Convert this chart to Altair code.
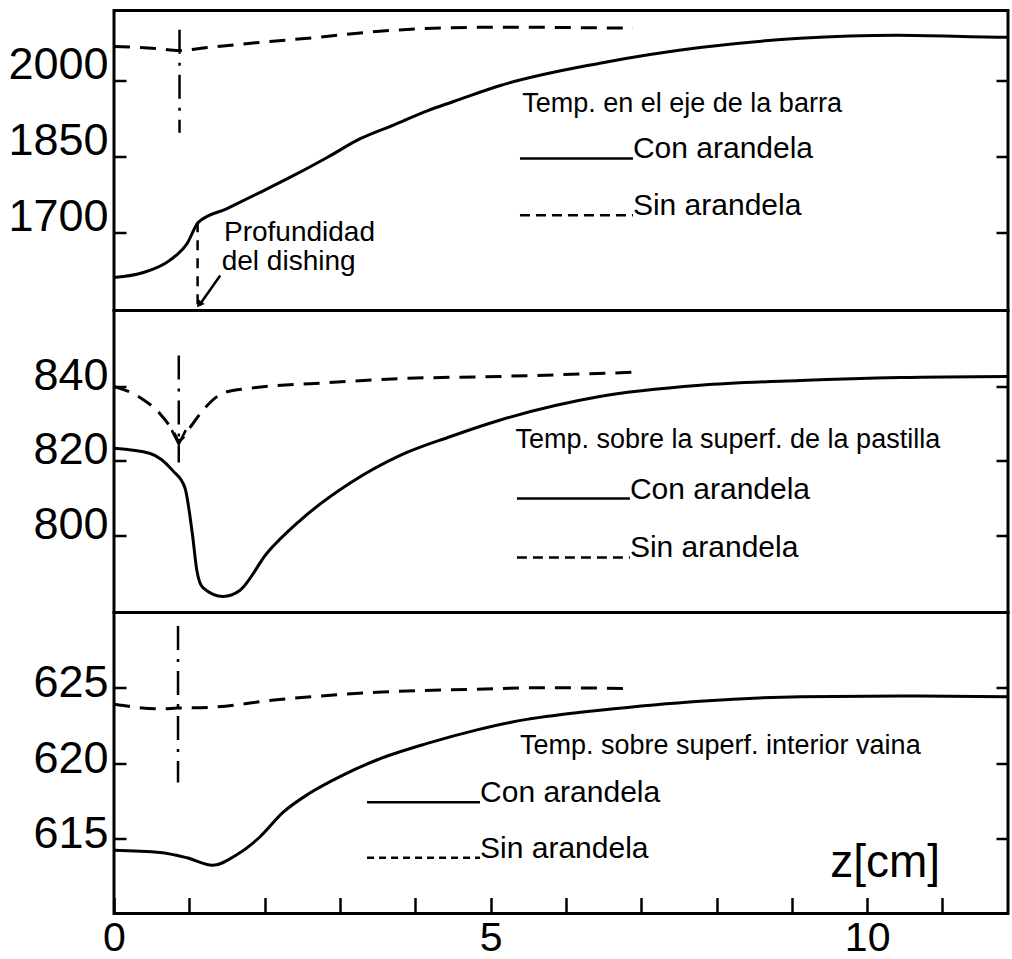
import altair as alt
import pandas as pd

FONT = "Liberation Sans"
X_MAX = 11.87
PLOT_W = 894

# ---------------- Panel 1: Temp. en el eje de la barra ----------------
barra_con_z = [0.0, 0.39, 0.74, 0.97, 1.12, 1.50, 1.94, 2.38, 2.83, 3.27, 3.71, 4.16, 4.50, 4.69, 5.13, 6.45, 7.78, 9.11, 10.4, 11.9, 12.0]
barra_con_T = [1611, 1621, 1645, 1678, 1720, 1747, 1779, 1812, 1848, 1885, 1912, 1940, 1958, 1968, 1990, 2034, 2065, 2083, 2089, 2085, 2085]
barra_sin_z = [0.0, 0.55, 0.87, 1.24, 1.94, 2.70, 3.36, 4.24, 5.13, 6.89]
barra_sin_T = [2067, 2063, 2059, 2065, 2075, 2085, 2095, 2103, 2105, 2103]
barra_ticks = [1700, 1850, 2000]
barra_domain = [1546, 2138]

# ---------------- Panel 2: Temp. sobre la superf. de la pastilla ----------------
pastilla_con_z = [0.0, 0.48, 0.78, 0.94, 1.04, 1.10, 1.18, 1.45, 1.67, 2.03, 2.47, 3.13, 3.80, 4.46, 5.13, 6.45, 7.78, 9.11, 10.44, 12.0]
pastilla_con_T = [823.4, 822.0, 817.4, 812.9, 800.5, 790.6, 786.0, 783.6, 785.2, 795.2, 804.0, 814.0, 821.5, 826.5, 831.0, 837.3, 840.3, 841.6, 842.4, 842.7]
pastilla_sin_z = [0.0, 0.35, 0.61, 0.78, 0.86, 1.01, 1.18, 1.47, 1.81, 2.91, 3.80, 5.13, 6.89]
pastilla_sin_T = [840.0, 837.0, 832.7, 828.2, 825.5, 829.0, 833.6, 838.4, 839.5, 841.1, 842.1, 842.7, 843.8]
pastilla_ticks = [800, 820, 840]
pastilla_domain = [779.3, 860.4]

# ---------------- Panel 3: Temp. sobre superf. interior vaina ----------------
vaina_con_z = [0.0, 0.61, 0.97, 1.31, 1.63, 1.94, 2.24, 2.60, 3.04, 3.49, 4.16, 4.82, 5.48, 5.92, 6.45, 7.78, 9.11, 10.44, 12.0]
vaina_con_T = [614.2, 614.06, 613.7, 613.2, 613.9, 615.1, 616.7, 618.0, 619.2, 620.2, 621.3, 622.2, 622.9, 623.2, 623.5, 624.1, 624.4, 624.45, 624.4]
vaina_sin_z = [0.0, 0.61, 0.84, 1.27, 2.16, 3.49, 4.82, 5.70, 6.89]
vaina_sin_T = [623.9, 623.6, 623.65, 623.7, 624.2, 624.7, 624.9, 625.0, 624.95]
vaina_ticks = [615, 620, 625]
vaina_domain = [610, 630]

x_ticks = list(range(0, 12))

# dash-dot verticals marking the washer position (z, T top, T bottom)
marker_barra = [0.87, 2100, 1897]
marker_pastilla = [0.86, 848.3, 819.6]
marker_vaina = [0.85, 629.1, 618.7]

# annotations (text, z, T, font size)
barra_texts = [
    ("Temp. en el eje de la barra", 5.42, 1937, 27),
    ("Con arandela", 6.89, 1846, 30),
    ("Sin arandela", 6.89, 1734, 30),
    ("Profundidad", 1.46, 1684, 28),
    ("del dishing", 1.43, 1625, 28),
]
barra_samples = [(5.39, 6.89, 1846, "con"), (5.39, 6.89, 1734, "sin")]

pastilla_texts = [
    ("Temp. sobre la superf. de la pastilla", 5.33, 823.6, 27),
    ("Con arandela", 6.85, 809.9, 30),
    ("Sin arandela", 6.85, 794.1, 30),
]
pastilla_samples = [(5.35, 6.85, 809.9, "con"), (5.35, 6.85, 794.1, "sin")]

vaina_texts = [
    ("Temp. sobre superf. interior vaina", 5.39, 620.6, 27),
    ("Con arandela", 4.86, 617.4, 30),
    ("Sin arandela", 4.86, 613.7, 30),
    ("z[cm]", 9.51, 612.4, 46),
]
vaina_samples = [(3.36, 4.86, 617.4, "con"), (3.36, 4.86, 613.7, "sin")]

DASH = [16, 10]
DASHDOT = [24, 9, 3, 9]

X_AXIS = alt.Axis(values=x_ticks, orient="bottom", offset=-16, tickSize=16, tickWidth=2.5,
                  tickColor="black", domain=False, grid=False,
                  labelExpr="datum.value % 5 === 0 ? datum.label : ''",
                  labelFont=FONT, labelFontSize=41, labelColor="black", labelPadding=5,
                  labelFlush=False, labelOverlap=False, labelBound=False, title=None)


def X(axis=None):
    return alt.X("z:Q", scale=alt.Scale(domain=[0, X_MAX], nice=False, zero=False), axis=axis)


def Y(dom, axis=None, field="T"):
    return alt.Y(f"{field}:Q", scale=alt.Scale(domain=dom, nice=False, zero=False), axis=axis)


def panel(con_z, con_T, sin_z, sin_T, dom, ticks, loff, marker, texts, samples, xa=None, sin_leg_dash=(10, 6)):
    left_axis = alt.Axis(values=ticks, orient="left", offset=-12, tickSize=12, tickWidth=2.5,
                         tickColor="black", domain=False, grid=False, labelFont=FONT, format="d",
                         labelFontSize=45, labelColor="black", labelPadding=6, labelOffset=loff,
                         title=None)
    right_axis = alt.Axis(values=ticks, orient="right", offset=-12, tickSize=12, tickWidth=2.5,
                          tickColor="black", domain=False, grid=False, labels=False, title=None)

    con_df = pd.DataFrame({"z": con_z, "T": con_T})
    sin_df = pd.DataFrame({"z": sin_z, "T": sin_T})

    con = alt.Chart(con_df).mark_line(color="black", strokeWidth=3, interpolate="monotone", clip=True).encode(
        x=X(xa), y=Y(dom, left_axis))
    sin = alt.Chart(sin_df).mark_line(color="black", strokeWidth=3, strokeDash=DASH, interpolate="monotone",
                                      clip=True).encode(x=X(xa), y=Y(dom, right_axis))

    mk_df = pd.DataFrame({"z": [marker[0]], "T": [marker[1]], "T2": [marker[2]]})
    mk = alt.Chart(mk_df).mark_rule(color="black", strokeWidth=2.5, strokeDash=DASHDOT).encode(
        x=X(xa), y=Y(dom), y2=alt.Y2("T2:Q"))

    txt_df = pd.DataFrame(texts, columns=["text", "z", "T", "size"])
    txt = alt.Chart(txt_df).mark_text(align="left", baseline="alphabetic", font=FONT, color="black").encode(
        x=X(xa), y=Y(dom), text="text:N", size=alt.Size("size:Q", scale=None, legend=None))

    smp_df = pd.DataFrame(samples, columns=["z", "z2", "T", "kind"])
    smp_con = alt.Chart(smp_df[smp_df.kind == "con"]).mark_rule(color="black", strokeWidth=2.5).encode(
        x=X(xa), x2=alt.X2("z2:Q"), y=Y(dom))
    smp_sin = alt.Chart(smp_df[smp_df.kind == "sin"]).mark_rule(color="black", strokeWidth=2.5,
                                                                strokeDash=list(sin_leg_dash)).encode(
        x=X(xa), x2=alt.X2("z2:Q"), y=Y(dom))

    return [con, sin, mk, txt, smp_con, smp_sin]


# ---- panel 1 ----
l1 = panel(barra_con_z, barra_con_T, barra_sin_z, barra_sin_T, barra_domain, barra_ticks, -16,
           marker_barra, barra_texts, barra_samples)
d1 = barra_domain
dish_df = pd.DataFrame({"z": [1.11], "T": [1720], "T2": [barra_domain[0]]})
dish = alt.Chart(dish_df).mark_rule(color="black", strokeWidth=2.5, strokeDash=[10, 8]).encode(
    x=X(), y=Y(d1), y2=alt.Y2("T2:Q"))
arrow_df = pd.DataFrame({"z": [1.41, 1.13], "T": [1615, 1556]})
arrow_line = alt.Chart(arrow_df).mark_line(color="black", strokeWidth=2.5).encode(x=X(), y=Y(d1))
arrow_head_df = pd.DataFrame({"z": [1.14], "T": [1560]})
arrow_head = alt.Chart(arrow_head_df).mark_point(shape="triangle", filled=True, color="black", size=70,
                                                 angle=216, opacity=1).encode(x=X(), y=Y(d1))
p1 = alt.layer(*l1, dish, arrow_line, arrow_head).resolve_axis(y="independent").properties(
    width=PLOT_W, height=300)

# ---- panel 2 ----
l2 = panel(pastilla_con_z, pastilla_con_T, pastilla_sin_z, pastilla_sin_T, pastilla_domain, pastilla_ticks,
           -11, marker_pastilla, pastilla_texts, pastilla_samples)
d2 = pastilla_domain
vhead_df = pd.DataFrame({"z": [0.86], "T": [826.4]})
vhead = alt.Chart(vhead_df).mark_point(shape="M -1 -1 L 0 1 L 1 -1", filled=False, color="black",
                                       strokeWidth=2.5, size=196, opacity=1).encode(x=X(), y=Y(d2))
p2 = alt.layer(*l2, vhead).resolve_axis(y="independent").properties(width=PLOT_W, height=302)

# ---- panel 3 ----
l3 = panel(vaina_con_z, vaina_con_T, vaina_sin_z, vaina_sin_T, vaina_domain, vaina_ticks, -5,
           marker_vaina, vaina_texts, vaina_samples, xa=X_AXIS, sin_leg_dash=(7, 5))
p3 = alt.layer(*l3).resolve_axis(y="independent").properties(width=PLOT_W, height=301)

chart = alt.vconcat(p1, p2, p3, spacing=0, bounds="flush").resolve_scale(x="independent").resolve_axis(
    x="independent").properties(
    padding={"left": 6, "top": 8.5, "right": 0, "bottom": 0},
    background="white",
).configure_view(stroke="black", strokeWidth=3).configure_concat(spacing=0)

chart.save("out.html", embed_options={"renderer": "svg", "actions": False})
